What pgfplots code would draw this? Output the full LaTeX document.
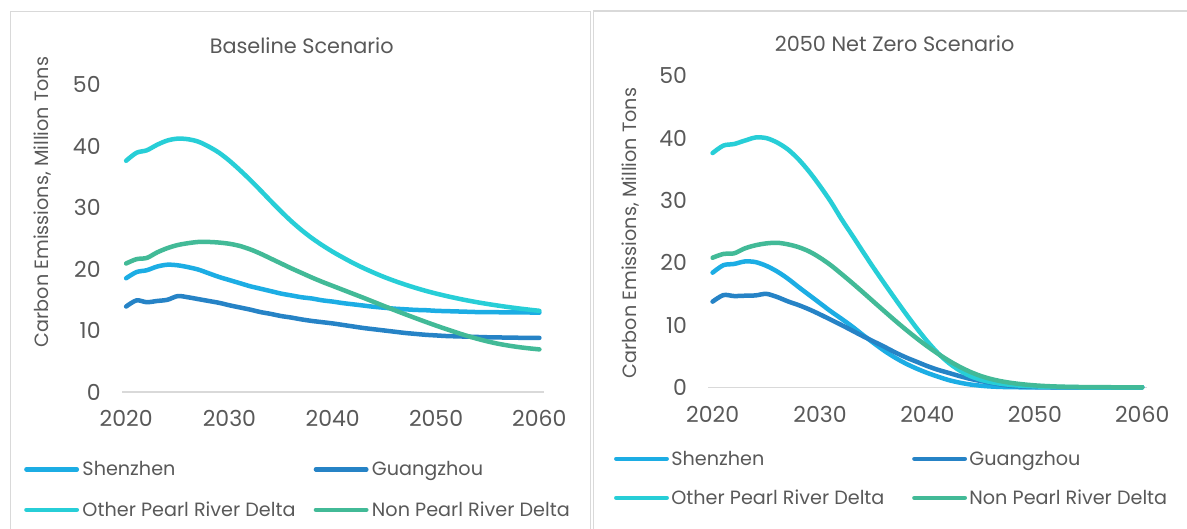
\documentclass[border=0pt]{standalone}
\usepackage{fontspec}
\setmainfont{Poppins}
\usepackage{pgfplots}
\usepackage{pgfplotstable}
\pgfplotsset{compat=1.18}

\definecolor{szblue}{HTML}{1CADE4}
\definecolor{gzblue}{HTML}{2683C6}
\definecolor{oprd}{HTML}{27CED7}
\definecolor{nprd}{HTML}{42BA97}
\definecolor{txt}{HTML}{595959}
\definecolor{rulegray}{HTML}{D9D9D9}

\newcommand\lbl{\fontsize{9.6pt}{11.5pt}\selectfont}
\newcommand\tck{\fontsize{11pt}{13.2pt}\selectfont}
\newcommand\ttl{\fontsize{10.4pt}{12.5pt}\selectfont}

% Carbon emissions, million tons: Shenzhen, Guangzhou, Other PRD, Non PRD
\pgfplotstableread{
year sz gz oprd nprd
2020 18.5 13.9 37.6 20.9
2021 19.5 14.9 38.9 21.6
2022 19.8 14.6 39.3 21.8
2023 20.4 14.8 40.2 22.7
2024 20.7 15.0 40.9 23.4
2025 20.6 15.6 41.2 23.9
2026 20.3 15.4 41.1 24.2
2027 19.9 15.1 40.7 24.4
2028 19.3 14.8 39.9 24.4
2029 18.7 14.5 38.9 24.3
2030 18.2 14.1 37.6 24.1
2031 17.7 13.75 36.1 23.75
2032 17.2 13.4 34.5 23.2
2033 16.8 13.0 32.8 22.5
2034 16.4 12.7 31.05 21.7
2035 16.0 12.35 29.35 20.9
2036 15.7 12.1 27.75 20.1
2037 15.4 11.8 26.3 19.35
2038 15.2 11.55 25.0 18.6
2039 14.9 11.35 23.85 17.9
2040 14.7 11.15 22.8 17.25
2041 14.45 10.9 21.85 16.6
2042 14.25 10.65 20.95 15.95
2043 14.05 10.4 20.13 15.3
2044 13.85 10.2 19.38 14.63
2045 13.7 10.0 18.68 13.96
2046 13.55 9.8 18.05 13.3
2047 13.45 9.6 17.47 12.65
2048 13.35 9.45 16.94 12.02
2049 13.3 9.3 16.45 11.4
2050 13.2 9.2 16.01 10.8
2051 13.15 9.1 15.61 10.22
2052 13.1 9.05 15.24 9.66
2053 13.05 9.0 14.9 9.13
2054 13.0 8.95 14.59 8.65
2055 13.0 8.9 14.31 8.22
2056 12.97 8.87 14.05 7.85
2057 12.95 8.85 13.81 7.55
2058 12.95 8.82 13.59 7.3
2059 12.93 8.8 13.39 7.1
2060 12.9 8.8 13.2 6.93
}\baseline

\pgfplotstableread{
year sz gz oprd nprd
2020 18.4 13.75 37.6 20.8
2021 19.6 14.8 38.8 21.4
2022 19.8 14.65 39.05 21.5
2023 20.2 14.7 39.6 22.3
2024 20.1 14.75 40.1 22.8
2025 19.5 15.0 40.0 23.1
2026 18.6 14.5 39.3 23.2
2027 17.45 13.8 38.2 22.95
2028 16.1 13.2 36.6 22.5
2029 14.8 12.5 34.6 21.8
2030 13.5 11.7 32.3 20.8
2031 12.2 10.85 29.8 19.6
2032 11.0 10.0 27.0 18.2
2033 9.75 9.1 24.4 16.75
2034 8.4 8.2 21.75 15.25
2035 7.1 7.35 19.15 13.72
2036 5.85 6.5 16.65 12.2
2037 4.75 5.6 14.2 10.7
2038 3.8 4.8 11.8 9.25
2039 3.0 4.1 9.5 7.87
2040 2.3 3.4 7.35 6.57
2041 1.7 2.8 5.45 5.37
2042 1.15 2.3 3.9 4.27
2043 0.75 1.8 2.7 3.3
2044 0.45 1.35 1.8 2.47
2045 0.25 1.0 1.2 1.8
2046 0.12 0.7 0.8 1.3
2047 0.05 0.4 0.53 0.93
2048 0.02 0.2 0.35 0.66
2049 0.0 0.1 0.23 0.46
2050 0.0 0.05 0.15 0.31
2051 0.0 0.02 0.09 0.2
2052 0.0 0.0 0.05 0.13
2053 0.0 0.0 0.03 0.08
2054 0.0 0.0 0.01 0.05
2055 0.0 0.0 0.0 0.03
2056 0.0 0.0 0.0 0.02
2057 0.0 0.0 0.0 0.01
2058 0.0 0.0 0.0 0.0
2059 0.0 0.0 0.0 0.0
2060 0.0 0.0 0.0 0.0
}\netzero

\pgfplotsset{
  emis/.style={
    scale only axis, clip=false,
    xmin=2019.6, xmax=2060.4, ymin=0, ymax=50,
    xtick={2020,2030,...,2060}, ytick={0,10,...,50},
    axis line style={draw=none}, tick style={draw=none},
    major tick length=0pt,
    /pgf/number format/assume math mode=true,
    /pgf/number format/1000 sep={},
    tick label style={font=\tck, text=txt, inner sep=0pt},
    xticklabel style={anchor=center, yshift=-13.4pt},
    yticklabel style={anchor=east, xshift=-10.5pt},
    legend columns=2,
    legend cell align=left,
    legend style={draw=none, fill=none, font=\lbl, text=txt, inner sep=0pt,
      column sep=0pt, nodes={inner sep=0pt}},
    legend image code/.code={\draw[#1, sharp plot, line cap=round, line width=2.25pt] (0pt,0pt) -- (25.2pt,0pt);},
    every axis plot/.append style={line width=2.25pt, smooth, tension=0.5,
      line cap=round, line join=round, no markers},
  },
}

\newcommand\entry[1]{\makebox[108pt][l]{\strut #1}}

\begin{document}
\begin{tikzpicture}
\useasboundingbox (0pt,0pt) rectangle (593.5pt,-264.5pt);
\fill[white] (0pt,0pt) rectangle (593.5pt,-264.5pt);

% chart frames
\draw[rulegray, line width=0.75pt] (5.25pt,-264.5pt) -- (5.25pt,-5.75pt) -- (295.25pt,-5.75pt) -- (295.25pt,-264.5pt);
\draw[rulegray, line width=0.75pt] (296.75pt,-264.5pt) -- (296.75pt,-5.5pt) -- (593.5pt,-5.5pt);

% titles and axis labels
\node[font=\ttl, text=txt] at (150.85pt,-22.85pt) {Baseline Scenario};
\node[font=\ttl, text=txt] at (447.3pt,-21.6pt) {2050 Net Zero Scenario};
\node[font=\lbl, text=txt, rotate=90] at (21.5pt,-101pt) {Carbon Emissions, Million Tons};
\node[font=\lbl, text=txt, rotate=90] at (315.3pt,-116.5pt) {Carbon Emissions, Million Tons};

% Baseline scenario
\begin{axis}[emis,
  at={(61pt,-196pt)}, anchor=south west,
  width=210.75pt, height=153.75pt,
  legend style={at={(-0.233,-0.2192)}, anchor=north west, row sep=10.65pt,
    /tikz/every odd column/.append style={column sep=1.7pt},
    /tikz/every even column/.append style={column sep=7.6pt}}]
\addplot[rulegray, line width=0.7pt, sharp plot, line cap=butt, forget plot] coordinates {(2019.6,0) (2060.4,0)};
\addplot[szblue] table[x=year, y=sz] {\baseline};
\addlegendentry{\entry{Shenzhen}}
\addplot[gzblue] table[x=year, y=gz] {\baseline};
\addlegendentry{\entry{Guangzhou}}
\addplot[oprd] table[x=year, y=oprd] {\baseline};
\addlegendentry{\entry{Other Pearl River Delta}}
\addplot[nprd] table[x=year, y=nprd] {\baseline};
\addlegendentry{\entry{Non Pearl River Delta}}
\end{axis}

% 2050 net zero scenario
\begin{axis}[emis,
  at={(354.15pt,-193.65pt)}, anchor=south west,
  width=219.1pt, height=155.75pt,
  legend style={at={(-0.216,-0.1975)}, anchor=north west, row sep=10pt,
    /tikz/every odd column/.append style={column sep=1.2pt},
    /tikz/every even column/.append style={column sep=12.4pt}}]
\addplot[rulegray, line width=0.7pt, sharp plot, line cap=butt, forget plot] coordinates {(2019.6,0) (2060.4,0)};
\addplot[szblue] table[x=year, y=sz] {\netzero};
\addlegendentry{\entry{Shenzhen}}
\addplot[gzblue] table[x=year, y=gz] {\netzero};
\addlegendentry{\entry{Guangzhou}}
\addplot[oprd] table[x=year, y=oprd] {\netzero};
\addlegendentry{\entry{Other Pearl River Delta}}
\addplot[nprd] table[x=year, y=nprd] {\netzero};
\addlegendentry{\entry{Non Pearl River Delta}}
\end{axis}
\end{tikzpicture}
\end{document}
